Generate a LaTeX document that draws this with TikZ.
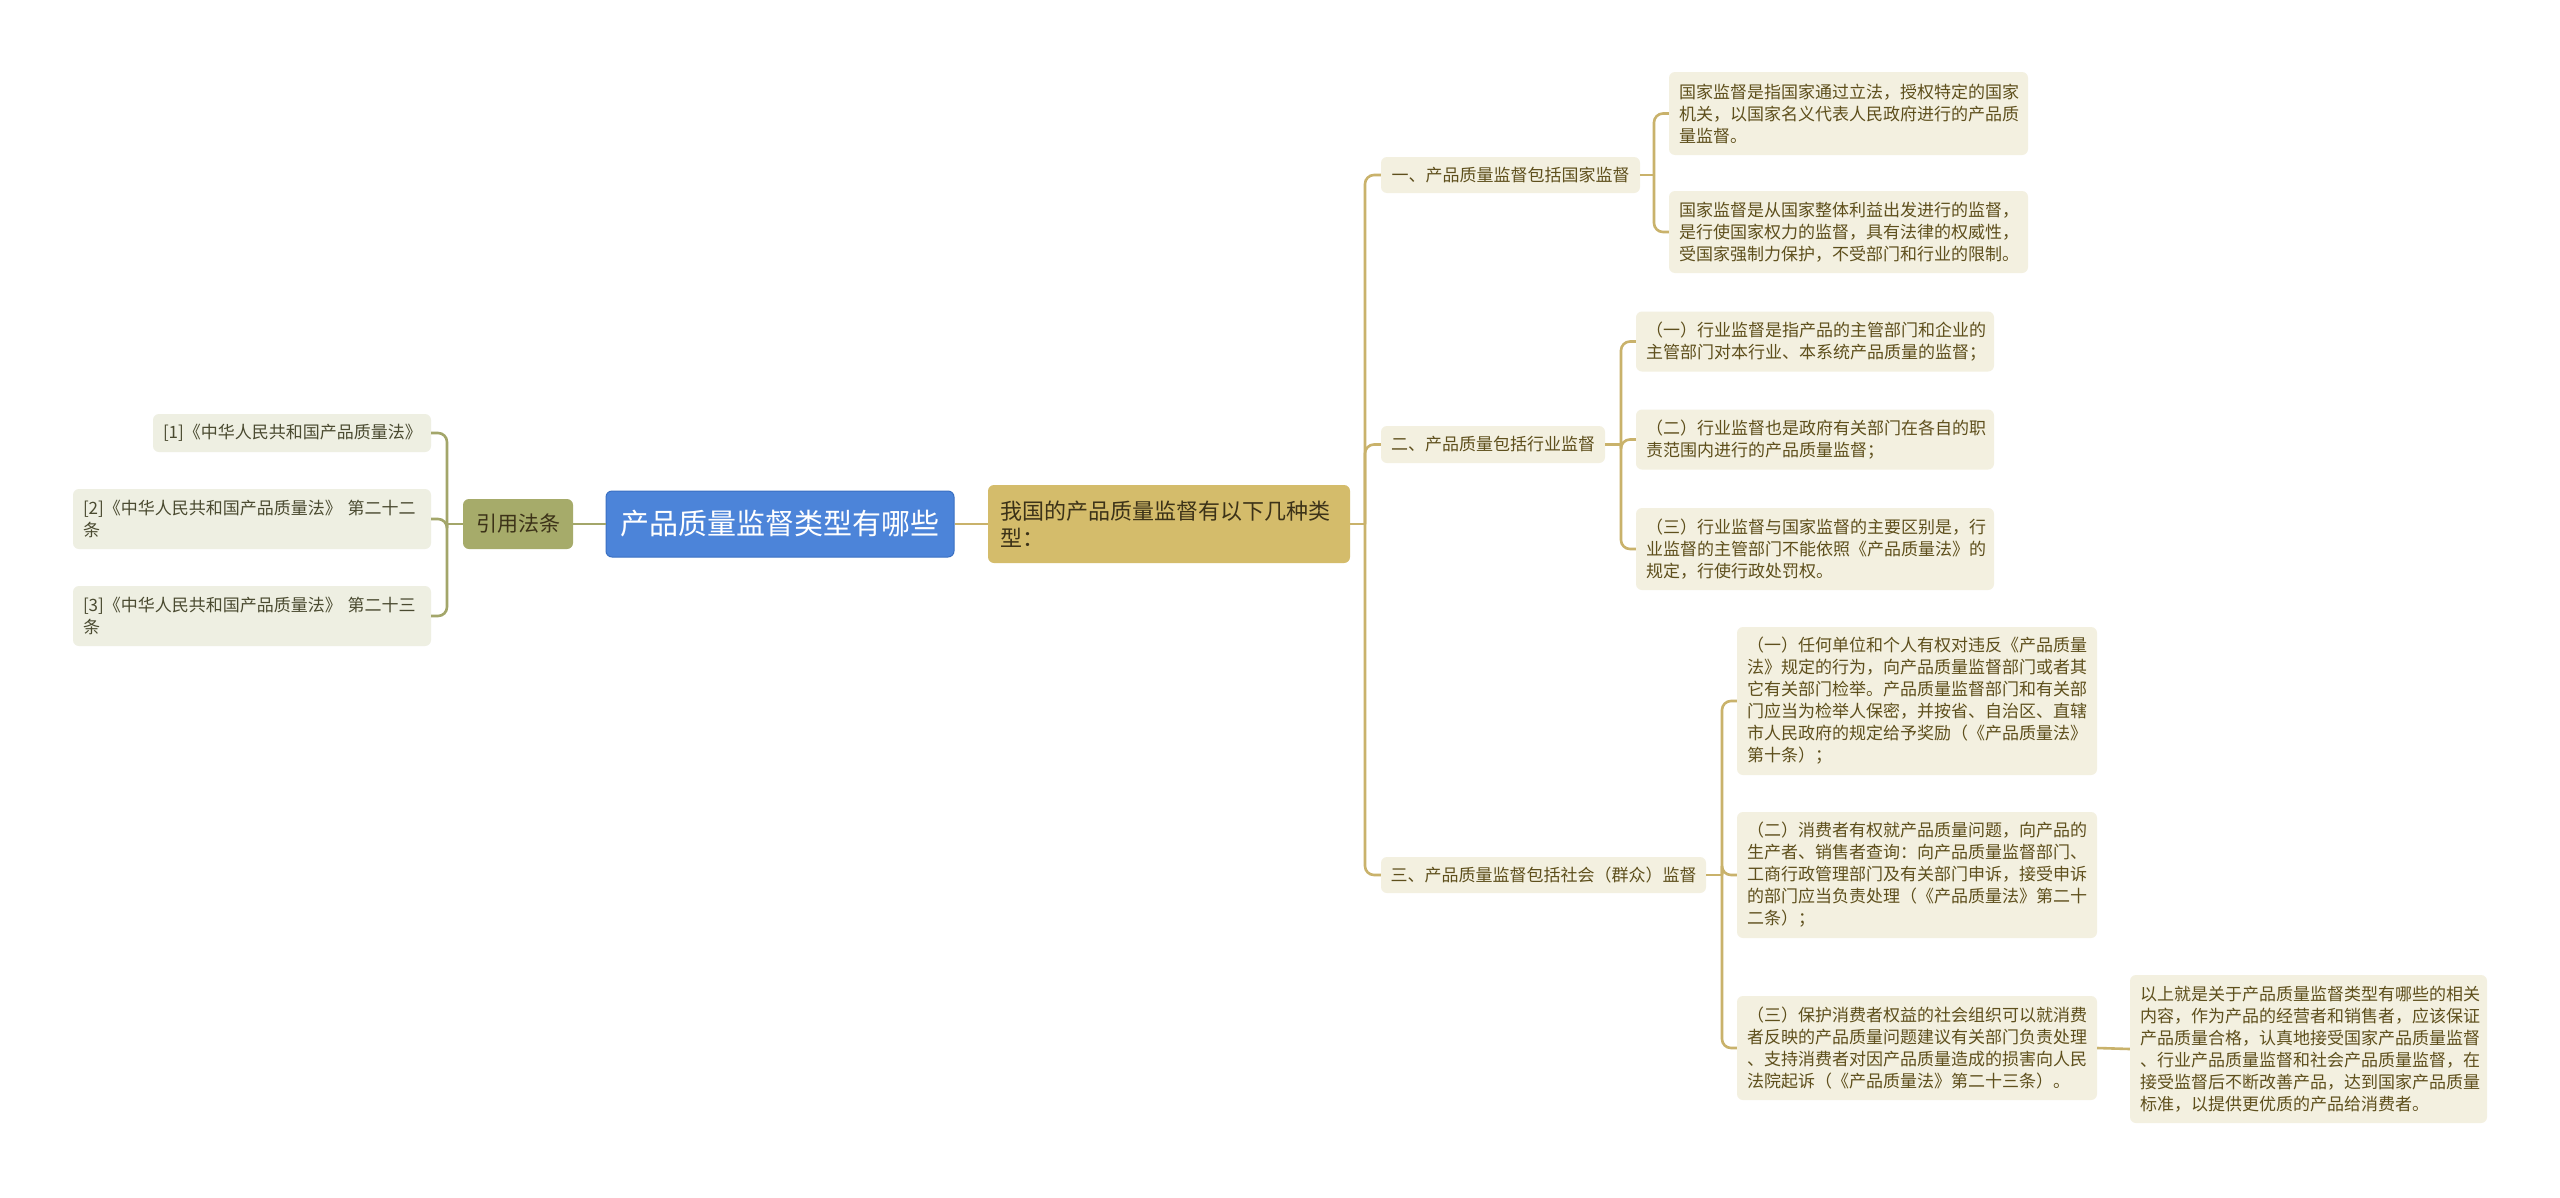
\documentclass[tikz,border=0pt]{standalone}
\usepackage{fontspec}
\setmainfont{Noto Sans CJK SC}
\definecolor{goldline}{HTML}{C9B26B}
\definecolor{oliveline}{HTML}{A3A66A}
\definecolor{leafRfill}{HTML}{F3F0E0}
\definecolor{leafRtext}{HTML}{5E4F1C}
\definecolor{leafLfill}{HTML}{EEEFE2}
\definecolor{leafLtext}{HTML}{4A4A30}
\definecolor{citefill}{HTML}{A6AB6A}
\definecolor{rootfill}{HTML}{4C84D9}
\definecolor{rootdraw}{HTML}{3A70C2}
\definecolor{mainfill}{HTML}{D4BC6B}
\definecolor{maintext}{HTML}{3C3218}
\newcommand\fsleaf{\fontsize{17pt}{22pt}\selectfont}
\begin{document}
\begin{tikzpicture}[x=1pt,y=-1pt,
  leafR/.style={fill=leafRfill,text=leafRtext,rounded corners=6pt,font=\fsleaf,align=left,inner xsep=10pt,inner ysep=0pt},
  leafL/.style={fill=leafLfill,text=leafLtext,rounded corners=6pt,font=\fsleaf,align=left,inner xsep=10pt,inner ysep=0pt},
  lvlone/.style={fill=leafRfill,text=leafRtext,rounded corners=6pt,font=\fsleaf,align=center,inner sep=0pt},
  rootbox/.style={fill=rootfill,draw=rootdraw,line width=1pt,text=white,rounded corners=6pt,font=\fontsize{29pt}{34pt}\selectfont,inner sep=0pt},
  mainbox/.style={fill=mainfill,text=maintext,rounded corners=6pt,font=\fontsize{22pt}{27pt}\selectfont,align=left,inner xsep=12pt,inner ysep=0pt},
  citebox/.style={fill=citefill,text=maintext,rounded corners=6pt,font=\fontsize{21pt}{25pt}\selectfont,inner sep=0pt},
  linkR/.style={draw=goldline,line width=2.6pt,rounded corners=9pt},
  linkL/.style={draw=oliveline,line width=2.6pt,rounded corners=9pt}]
\useasboundingbox (0,0) rectangle (2560,1197);
\fill[white] (0,0) rectangle (2560,1197);

% central nodes
\node[rootbox,minimum width=348pt,minimum height=66pt] (root) at (780,524) {产品质量监督类型有哪些};
\node[citebox,minimum width=110pt,minimum height=50pt] (cite) at (518,524) {引用法条};
\node[mainbox,text width=338pt,minimum height=78pt] (main) at (1169,524) {我国的产品质量监督有以下几种类\\型：};

% left leaves
\node[leafL,text width=258pt,minimum height=38pt] (l1) at (292,433) {[1]《中华人民共和国产品质量法》};
\node[leafL,text width=338pt,minimum height=60pt] (l2) at (252,519) {[2]《中华人民共和国产品质量法》 第二十二\\条};
\node[leafL,text width=338pt,minimum height=60pt] (l3) at (252,616) {[3]《中华人民共和国产品质量法》 第二十三\\条};

% level one
\node[lvlone,minimum width=259pt,minimum height=36pt] (a) at (1510.5,175) {一、产品质量监督包括国家监督};
\node[lvlone,minimum width=224pt,minimum height=37pt] (b) at (1493,444.5) {二、产品质量包括行业监督};
\node[lvlone,minimum width=325pt,minimum height=36pt] (c) at (1543.5,875) {三、产品质量监督包括社会（群众）监督};

% leaves of A
\node[leafR,text width=339pt,minimum height=83pt] (a1) at (1848.5,113.5) {国家监督是指国家通过立法，授权特定的国家\\机关，以国家名义代表人民政府进行的产品质\\量监督。};
\node[leafR,text width=339pt,minimum height=82pt] (a2) at (1848.5,232) {国家监督是从国家整体利益出发进行的监督，\\是行使国家权力的监督，具有法律的权威性，\\受国家强制力保护，不受部门和行业的限制。};

% leaves of B
\node[leafR,text width=338pt,minimum height=60pt] (b1) at (1815,341.5) {（一）行业监督是指产品的主管部门和企业的\\主管部门对本行业、本系统产品质量的监督；};
\node[leafR,text width=338pt,minimum height=60pt] (b2) at (1815,439.5) {（二）行业监督也是政府有关部门在各自的职\\责范围内进行的产品质量监督；};
\node[leafR,text width=338pt,minimum height=82pt] (b3) at (1815,549) {（三）行业监督与国家监督的主要区别是，行\\业监督的主管部门不能依照《产品质量法》的\\规定，行使行政处罚权。};

% leaves of C
\node[leafR,text width=340pt,minimum height=148pt] (c1) at (1917,701) {（一）任何单位和个人有权对违反《产品质量\\法》规定的行为，向产品质量监督部门或者其\\它有关部门检举。产品质量监督部门和有关部\\门应当为检举人保密，并按省、自治区、直辖\\市人民政府的规定给予奖励（《产品质量法》\\第十条）；};
\node[leafR,text width=340pt,minimum height=126pt] (c2) at (1917,875) {（二）消费者有权就产品质量问题，向产品的\\生产者、销售者查询：向产品质量监督部门、\\工商行政管理部门及有关部门申诉，接受申诉\\的部门应当负责处理（《产品质量法》第二十\\二条）；};
\node[leafR,text width=340pt,minimum height=104pt] (c3) at (1917,1048) {（三）保护消费者权益的社会组织可以就消费\\者反映的产品质量问题建议有关部门负责处理\\、支持消费者对因产品质量造成的损害向人民\\法院起诉（《产品质量法》第二十三条）。};
\node[leafR,text width=337pt,minimum height=148pt] (d) at (2308.5,1049) {以上就是关于产品质量监督类型有哪些的相关\\内容，作为产品的经营者和销售者，应该保证\\产品质量合格，认真地接受国家产品质量监督\\、行业产品质量监督和社会产品质量监督，在\\接受监督后不断改善产品，达到国家产品质量\\标准，以提供更优质的产品给消费者。};

% junction coordinates
\coordinate (tl) at (447,524);
\coordinate (tm) at (1365,524);
\coordinate (ta) at (1654,175);
\coordinate (tb) at (1621,444.5);
\coordinate (tc) at (1722,875);

% connectors
\draw[linkR] (root.east) -- (main.west);
\draw[linkL] (root.west) -- (cite.east);
\draw[linkL] (cite.west) -- (tl);
\draw[linkL] (tl) |- (l1.east);
\draw[linkL] (tl) |- (l2.east);
\draw[linkL] (tl) |- (l3.east);
\draw[linkR] (main.east) -- (tm);
\draw[linkR] (tm) |- (a.west);
\draw[linkR] (tm) |- (b.west);
\draw[linkR] (tm) |- (c.west);
\draw[linkR] (a.east) -- (ta);
\draw[linkR] (ta) |- (a1.west);
\draw[linkR] (ta) |- (a2.west);
\draw[linkR] (b.east) -- (tb);
\draw[linkR] (tb) |- (b1.west);
\draw[linkR] (tb) |- (b2.west);
\draw[linkR] (tb) |- (b3.west);
\draw[linkR] (c.east) -- (tc);
\draw[linkR] (tc) |- (c1.west);
\draw[linkR] (tc) |- (c2.west);
\draw[linkR] (tc) |- (c3.west);
\draw[linkR] (c3.east) -- (d.west);
\end{tikzpicture}
\end{document}
